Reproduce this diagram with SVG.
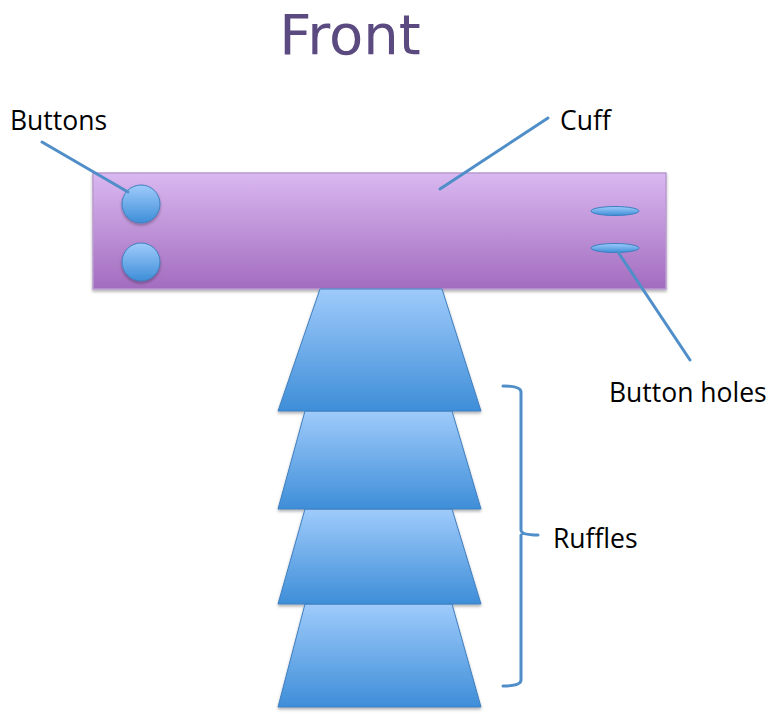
<svg xmlns="http://www.w3.org/2000/svg" width="783" height="723" viewBox="0 0 783 723">
<defs>
<linearGradient id="gCuff" x1="0" y1="0" x2="0" y2="1"><stop offset="0" stop-color="#d9b8f0"/><stop offset="1" stop-color="#a36cbf"/></linearGradient>
<linearGradient id="gBlue" x1="0" y1="0" x2="0" y2="1"><stop offset="0" stop-color="#9fcbfb"/><stop offset="1" stop-color="#3e8ed8"/></linearGradient>
<filter id="sh" x="-10%" y="-10%" width="120%" height="130%"><feDropShadow dx="0" dy="2" stdDeviation="1.5" flood-color="#000" flood-opacity="0.3"/></filter>
</defs>
<style>
.lbl{font-family:"Open Sans","Liberation Sans",sans-serif;font-size:26.5px;fill:#000}
.blue{fill:url(#gBlue);stroke:#3f7fbf;stroke-width:1}
.ln{stroke:#4f8ec8;stroke-width:3;fill:none;stroke-linecap:round}
</style>
<rect width="783" height="723" fill="#fff"/>
<text x="350" y="54" text-anchor="middle" font-family="DejaVu Sans, sans-serif" font-size="56" fill="#5b4a80">Front</text>
<g id="cuff"><rect x="93" y="173" width="573" height="116" fill="url(#gCuff)" stroke="#b99ad0" stroke-width="1.5" filter="url(#sh)"/></g>
<g id="buttons">
<circle cx="141" cy="204" r="19" class="blue" filter="url(#sh)"/>
<circle cx="141" cy="262" r="19" class="blue" filter="url(#sh)"/>
</g>
<g id="buttonholes">
<ellipse cx="615" cy="211" rx="24" ry="4.5" class="blue"/>
<ellipse cx="615" cy="248" rx="24" ry="4.5" class="blue"/>
</g>
<g id="ruffles" filter="url(#sh)">
<polygon points="305,604 452,604 481,707 278,707" class="blue"/>
<polygon points="305,509 452,509 481,604 278,604" class="blue"/>
<polygon points="305,411 452,411 481,509 278,509" class="blue"/>
<polygon points="320,289 442,289 481,411 278,411" class="blue"/>
</g>
<g id="connectors">
<line x1="42" y1="142" x2="128" y2="192" class="ln"/>
<line x1="548" y1="118" x2="440" y2="189" class="ln"/>
<line x1="618" y1="252" x2="690" y2="360" class="ln"/>
<path d="M503,386 Q521,386 521,392 L521,530 Q521,535 538,535 M521,535 Q521,540 521,545 L521,680 Q521,686 503,686" class="ln"/>
</g>
<g id="labels">
<text x="10" y="130" class="lbl">Buttons</text>
<text x="560" y="130" class="lbl">Cuff</text>
<text x="609" y="402" class="lbl">Button holes</text>
<text x="553" y="548" class="lbl">Ruffles</text>
</g>
</svg>
